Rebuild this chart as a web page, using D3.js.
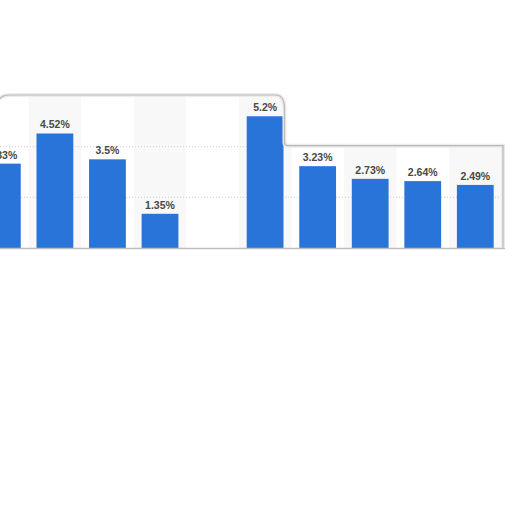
<!DOCTYPE html>
<html>
<head>
<meta charset="utf-8">
<script src="https://cdn.jsdelivr.net/npm/d3@7"></script>
<style>
  html, body { margin: 0; padding: 0; background: #ffffff; }
  svg { display: block; }
</style>
</head>
<body>
<svg id="chart" width="512" height="512"></svg>
<script>
// Data (first and last categories partially out of frame)
const categories = ["C1", "C2", "C3", "C4", "C5", "C6", "C7", "C8", "C9", "C10", "C11"];
const values = [3.33, 4.52, 3.5, 1.35, null, 5.2, 3.23, 2.73, 2.64, 2.49, null];
const labels = ["3.33%", "4.52%", "3.5%", "1.35%", "", "5.2%", "3.23%", "2.73%", "2.64%", "2.49%", ""];
const gridTicks = [2, 4];

const svg = d3.select("#chart");
svg.append("rect").attr("width", 512).attr("height", 512).attr("fill", "#ffffff");

const x = d3.scaleBand()
  .domain(categories)
  .range([-31.8, 562])
  .paddingInner(0.3)
  .paddingOuter(0.3);

const y = d3.scaleLinear().domain([0, 6]).range([248, 96]);

const top6 = y(6) - 1, top4 = y(4) - 1, xr = 503, xb = x("C6") + x.bandwidth();
const frame = `M0,${top6 + 4} Q2,${top6} 10,${top6} L${xb - 8},${top6} Q${xb + 1},${top6} ${xb + 1},${top6 + 14} L${xb + 1},${top4 - 3} Q${xb + 1},${top4} ${xb + 6},${top4} L${xr},${top4} L${xr},${y(0)}`;

svg.append("defs").append("clipPath").attr("id", "fr")
  .append("path").attr("d", frame + ` L0,${y(0)} Z`);

const g = svg.append("g");

// alternating column bands (inside the frame only)
g.append("g").attr("clip-path", "url(#fr)")
  .selectAll("rect.band")
  .data(categories.filter((d, i) => i % 2 === 1))
  .join("rect")
  .attr("class", "band")
  .attr("x", d => x(d) + x.bandwidth() / 2 - x.step() / 2)
  .attr("width", x.step())
  .attr("y", y(6))
  .attr("height", y(0) - y(6))
  .attr("fill", "#f8f8f8");

// dotted gridlines
g.selectAll("line.grid")
  .data(gridTicks)
  .join("line")
  .attr("class", "grid")
  .attr("x1", 0).attr("x2", 503)
  .attr("y1", d => y(d)).attr("y2", d => y(d))
  .attr("stroke", "#cfcfcf")
  .attr("stroke-width", 1)
  .attr("stroke-dasharray", "1,2");

// bars
const data = categories.map((c, i) => ({ c, v: values[i], l: labels[i] })).filter(d => d.v != null);

g.selectAll("rect.bar")
  .data(data)
  .join("rect")
  .attr("class", "bar")
  .attr("x", d => x(d.c))
  .attr("width", x.bandwidth())
  .attr("y", d => y(d.v))
  .attr("height", d => y(0) - y(d.v))
  .attr("fill", "#2874d9");

// value labels
g.selectAll("text.lbl")
  .data(data)
  .join("text")
  .attr("class", "lbl")
  .attr("x", d => x(d.c) + x.bandwidth() / 2)
  .attr("y", d => y(d.v) - 5)
  .attr("text-anchor", "middle")
  .attr("font-family", "Liberation Sans, Arial, sans-serif")
  .attr("font-weight", "bold")
  .attr("font-size", 10.5)
  .attr("fill", "#484848")
  .text(d => d.l);

// baseline
g.append("line")
  .attr("x1", 0).attr("x2", 505)
  .attr("y1", y(0) + 0.5).attr("y2", y(0) + 0.5)
  .attr("stroke", "#bdbdbd")
  .attr("stroke-width", 1.5);

// distorted frame outline (screenshot artefact)
svg.append("path")
  .attr("d", frame)
  .attr("fill", "none")
  .attr("stroke", "#ececec")
  .attr("stroke-width", 4);
svg.append("path")
  .attr("d", frame)
  .attr("fill", "none")
  .attr("stroke", "#b8b8b8")
  .attr("stroke-width", 1.2);
</script>
</body>
</html>
